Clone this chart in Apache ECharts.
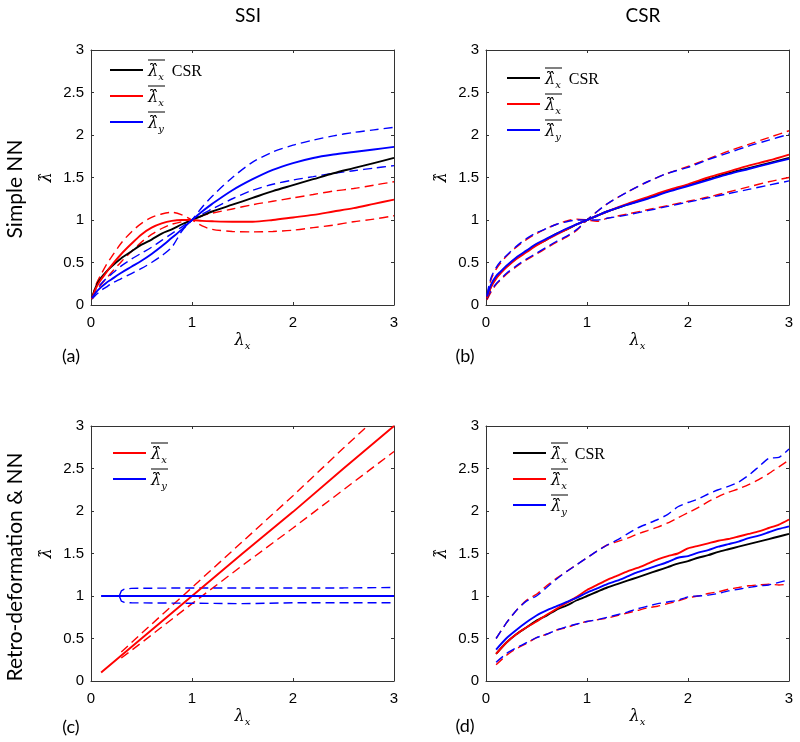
<!DOCTYPE html>
<html><head><meta charset="utf-8">
<script src="https://cdn.jsdelivr.net/npm/echarts@6/dist/echarts.min.js"></script>
<style>html,body{margin:0;padding:0;background:#fff}#c{width:800px;height:742px}</style>
</head><body><div id="c"></div>
<script>
// ---------- Panel (a): SSI, Simple NN ----------
const xA = [0.01,0.05,0.1,0.15,0.2,0.3,0.4,0.5,0.6,0.7,0.8,0.9,1.0,1.1,1.2,1.4,1.6,1.8,2.0,2.2,2.4,2.6,2.8,3.0];
const aCSR = [0.08,0.22,0.32,0.39,0.45,0.55,0.63,0.71,0.77,0.84,0.89,0.95,1.0,1.05,1.1,1.18,1.26,1.34,1.41,1.48,1.55,1.61,1.67,1.73];
const aRed = [0.07,0.2,0.3,0.38,0.46,0.6,0.72,0.83,0.91,0.96,0.99,1.0,1.0,0.99,0.985,0.98,0.98,1.0,1.03,1.06,1.1,1.14,1.19,1.24];
const aRedD1 = [0.08,0.24,0.36,0.47,0.56,0.73,0.86,0.96,1.03,1.07,1.09,1.06,1.0,0.93,0.89,0.865,0.86,0.865,0.88,0.91,0.94,0.98,1.01,1.05];
const aRedD2 = [0.07,0.16,0.24,0.31,0.38,0.51,0.63,0.74,0.83,0.9,0.95,0.98,1.0,1.05,1.08,1.13,1.18,1.22,1.26,1.3,1.34,1.37,1.41,1.45];
const aBlue = [0.08,0.15,0.21,0.26,0.3,0.38,0.45,0.52,0.6,0.69,0.79,0.89,1.0,1.1,1.19,1.35,1.48,1.59,1.67,1.73,1.77,1.8,1.83,1.86];
const aBlueD1 = [0.09,0.18,0.25,0.31,0.36,0.46,0.54,0.61,0.68,0.76,0.84,0.92,1.0,1.07,1.13,1.25,1.35,1.42,1.47,1.51,1.55,1.58,1.61,1.64];
const aBlueD2 = [0.07,0.12,0.17,0.21,0.25,0.31,0.37,0.43,0.5,0.58,0.68,0.87,1.0,1.15,1.28,1.5,1.68,1.8,1.88,1.94,1.99,2.03,2.06,2.09];

// ---------- Panel (b): CSR, Simple NN ----------
const xB = [0.01,0.05,0.1,0.15,0.2,0.3,0.4,0.5,0.6,0.7,0.8,0.9,1.0,1.1,1.2,1.4,1.6,1.8,2.0,2.2,2.4,2.6,2.8,3.0];
const bCSR = [0.08,0.22,0.32,0.39,0.45,0.55,0.63,0.71,0.77,0.84,0.89,0.95,1.0,1.05,1.1,1.18,1.26,1.34,1.41,1.48,1.55,1.61,1.67,1.73];
const bRed = [0.08,0.21,0.31,0.38,0.44,0.54,0.62,0.7,0.77,0.83,0.89,0.95,1.0,1.05,1.1,1.19,1.27,1.35,1.42,1.5,1.57,1.64,1.7,1.77];
const bBlue = [0.1,0.24,0.34,0.4,0.46,0.56,0.64,0.72,0.78,0.84,0.9,0.95,1.0,1.05,1.1,1.18,1.25,1.33,1.4,1.47,1.54,1.6,1.66,1.72];
const bRedD1 = [0.1,0.3,0.42,0.5,0.57,0.68,0.77,0.84,0.9,0.95,0.99,1.01,1.0,0.985,1.02,1.07,1.12,1.17,1.22,1.27,1.33,1.39,1.45,1.5];
const bRedD2 = [0.06,0.15,0.24,0.3,0.36,0.45,0.53,0.6,0.67,0.74,0.8,0.88,1.0,1.1,1.19,1.33,1.45,1.55,1.63,1.72,1.81,1.89,1.97,2.05];
const bBlueD1 = [0.12,0.32,0.44,0.52,0.58,0.69,0.78,0.85,0.9,0.95,0.98,1.0,1.0,1.0,1.02,1.06,1.11,1.16,1.21,1.26,1.31,1.36,1.41,1.46];
const bBlueD2 = [0.07,0.17,0.25,0.31,0.37,0.46,0.54,0.61,0.68,0.75,0.81,0.89,1.0,1.1,1.19,1.33,1.45,1.55,1.62,1.71,1.79,1.87,1.94,2.01];

// ---------- Panel (c): SSI, Retro-deformation & NN ----------
const xC = [0.1,0.3,0.5,1.0,1.5,2.0,2.5,3.0];
const cRed = [0.1,0.3,0.5,1.0,1.5,1.99,2.5,3.0];
const xCd = [0.3,0.5,1.0,1.5,2.0,2.5,3.0];
const cRedUp = [0.34,0.56,1.1,1.64,2.18,2.74,3.29];
const cRedLo = [0.27,0.45,0.91,1.36,1.8,2.25,2.7];
const cBlue = [1.0,1.0,1.0,1.0,1.0,1.0,1.0,1.0];
const xCb = [0.28,0.3,0.33,0.4,1.0,1.5,2.0,2.5,3.0];
const cBlueUp = [1.0,1.06,1.08,1.09,1.095,1.095,1.095,1.095,1.1];
const cBlueLo = [1.0,0.94,0.925,0.92,0.915,0.91,0.92,0.92,0.92];

// ---------- Panel (d): CSR, Retro-deformation & NN ----------
const xD = [0.1,0.2,0.3,0.4,0.5,0.6,0.7,0.8,0.9,1.0,1.1,1.2,1.3,1.4,1.5,1.6,1.7,1.8,1.9,2.0,2.1,2.2,2.3,2.4,2.5,2.6,2.7,2.8,2.9,3.0];
const dCSR = [0.32,0.45,0.55,0.63,0.71,0.77,0.84,0.89,0.95,1.0,1.05,1.1,1.14,1.18,1.22,1.26,1.3,1.34,1.38,1.41,1.45,1.48,1.52,1.55,1.58,1.61,1.64,1.67,1.7,1.73];
const dRed = [0.32,0.45,0.55,0.63,0.7,0.78,0.85,0.92,0.99,1.07,1.13,1.19,1.24,1.29,1.33,1.38,1.43,1.47,1.5,1.56,1.59,1.62,1.65,1.67,1.7,1.73,1.76,1.8,1.84,1.9];
const dBlue = [0.37,0.5,0.6,0.69,0.77,0.83,0.88,0.93,0.98,1.04,1.09,1.14,1.18,1.23,1.28,1.32,1.36,1.4,1.45,1.47,1.51,1.54,1.58,1.61,1.64,1.68,1.71,1.75,1.79,1.82];
const dRedUp = [0.5,0.68,0.83,0.95,1.02,1.12,1.21,1.29,1.37,1.45,1.53,1.6,1.64,1.68,1.73,1.77,1.81,1.86,1.92,1.98,2.04,2.11,2.17,2.22,2.26,2.31,2.37,2.44,2.52,2.6];
const dBlueUp = [0.5,0.68,0.83,0.94,1.0,1.1,1.2,1.29,1.37,1.45,1.53,1.6,1.66,1.73,1.8,1.85,1.9,1.96,2.05,2.1,2.14,2.2,2.25,2.29,2.34,2.42,2.52,2.62,2.63,2.73];
const dRedLo = [0.19,0.3,0.38,0.44,0.51,0.55,0.6,0.63,0.67,0.7,0.72,0.74,0.77,0.8,0.83,0.86,0.88,0.91,0.94,0.98,1.0,1.03,1.05,1.08,1.1,1.12,1.13,1.14,1.13,1.14];
const dBlueLo = [0.22,0.32,0.39,0.45,0.51,0.55,0.6,0.64,0.67,0.7,0.72,0.75,0.78,0.81,0.85,0.88,0.91,0.93,0.95,0.99,1.0,1.01,1.03,1.06,1.08,1.1,1.12,1.13,1.16,1.19];

// ---------- Tick labels / text ----------
const xTicks = [0,1,2,3];
const yTicks = [0,0.5,1,1.5,2,2.5,3];
const colTitles = ['SSI','CSR'];
const rowTitles = ['Simple NN','Retro-deformation & NN'];
const panelTags = ['(a)','(b)','(c)','(d)'];

const RED = '#ff0000', BLUE = '#0000ff', BLACK = '#000000';
const AX = '#333333';
const pts = (xs, ys) => xs.map((x, i) => [x, ys[i]]);

const gridPos = [[91,50],[486,50],[91,426],[486,426]];
const W = 303, H = 255;

const mathRich = {
  l: {fontFamily: 'DejaVu Serif', fontStyle: 'italic', fontSize: 16, color: '#000', lineHeight: 20},
  s: {fontFamily: 'DejaVu Serif', fontStyle: 'italic', fontSize: 10, color: '#000', verticalAlign: 'bottom', lineHeight: 16},
  t: {fontFamily: 'Liberation Serif', fontSize: 16, color: '#000', lineHeight: 20},
  ov: {width: 17, height: 1, lineHeight: 4, fontSize: 4, backgroundColor: '#000'}
};

const xAxes = [], yAxes = [];
gridPos.forEach((g, i) => {
  xAxes.push({
    gridIndex: i, type: 'value', min: 0, max: 3, interval: 1, position: 'bottom',
    axisLine: {show: true, onZero: false, lineStyle: {color: AX, width: 1}},
    axisTick: {show: true, inside: true, length: 3, lineStyle: {color: AX}},
    axisLabel: {color: '#000', fontSize: 15, fontFamily: 'Liberation Sans', margin: 10,
      formatter: v => xTicks.includes(v) ? String(v) : ''},
    splitLine: {show: false},
    name: '{l|λ}{s|x}', nameLocation: 'middle', nameGap: 26,
    nameTextStyle: {rich: mathRich}
  });
  xAxes.push({
    gridIndex: i, type: 'value', min: 0, max: 3, interval: 1, position: 'top',
    axisLine: {show: true, onZero: false, lineStyle: {color: AX, width: 1}},
    axisTick: {show: true, inside: true, length: 3, lineStyle: {color: AX}},
    axisLabel: {show: false}, splitLine: {show: false}
  });
  yAxes.push({
    gridIndex: i, type: 'value', min: 0, max: 3, interval: 0.5, position: 'left',
    axisLine: {show: true, onZero: false, lineStyle: {color: AX, width: 1}},
    axisTick: {show: true, inside: true, length: 3, lineStyle: {color: AX}},
    axisLabel: {color: '#000', fontSize: 15, fontFamily: 'Liberation Sans', margin: 7,
      formatter: v => yTicks.includes(v) ? String(v) : ''},
    splitLine: {show: false},
    name: '{l|λ̂}', nameLocation: 'middle', nameGap: 34, nameRotate: 90,
    nameTextStyle: {rich: mathRich}
  });
  yAxes.push({
    gridIndex: i, type: 'value', min: 0, max: 3, interval: 0.5, position: 'right',
    axisLine: {show: true, onZero: false, lineStyle: {color: AX, width: 1}},
    axisTick: {show: true, inside: true, length: 3, lineStyle: {color: AX}},
    axisLabel: {show: false}, splitLine: {show: false}
  });
});

function line(name, g, data, color, dashed, smooth) {
  return {
    name, type: 'line', xAxisIndex: 2*g, yAxisIndex: 2*g, data,
    symbol: 'none', showSymbol: false, smooth: smooth === undefined ? 0.3 : smooth,
    clip: true, silent: true, animation: false,
    lineStyle: {color, width: dashed ? 1.4 : 1.9, type: dashed ? [9, 5] : 'solid'},
    itemStyle: {color},
    z: dashed ? 2 : 3
  };
}

const series = [
  // a
  line('csr', 0, pts(xA, aCSR), BLACK, false),
  line('lx_a1', 0, pts(xA, aRedD1), RED, true),
  line('lx_a2', 0, pts(xA, aRedD2), RED, true),
  line('ly_a1', 0, pts(xA, aBlueD1), BLUE, true),
  line('ly_a2', 0, pts(xA, aBlueD2), BLUE, true),
  line('lx', 0, pts(xA, aRed), RED, false),
  line('ly', 0, pts(xA, aBlue), BLUE, false),
  // b
  line('csr', 1, pts(xB, bCSR), BLACK, false),
  line('lx_b1', 1, pts(xB, bRedD1), RED, true),
  line('lx_b2', 1, pts(xB, bRedD2), RED, true),
  line('ly_b1', 1, pts(xB, bBlueD1), BLUE, true),
  line('ly_b2', 1, pts(xB, bBlueD2), BLUE, true),
  line('lx', 1, pts(xB, bRed), RED, false),
  line('ly', 1, pts(xB, bBlue), BLUE, false),
  // c
  line('lx_c1', 2, pts(xCd, cRedUp), RED, true, false),
  line('lx_c2', 2, pts(xCd, cRedLo), RED, true, false),
  line('ly_c1', 2, pts(xCb, cBlueUp), BLUE, true, false),
  line('ly_c2', 2, pts(xCb, cBlueLo), BLUE, true, false),
  line('lx', 2, pts(xC, cRed), RED, false, false),
  line('ly', 2, pts(xC, cBlue), BLUE, false, false),
  // d
  line('csr', 3, pts(xD, dCSR), BLACK, false, 0.2),
  line('lx_d1', 3, pts(xD, dRedUp), RED, true, 0.2),
  line('lx_d2', 3, pts(xD, dRedLo), RED, true, 0.2),
  line('ly_d1', 3, pts(xD, dBlueUp), BLUE, true, 0.2),
  line('ly_d2', 3, pts(xD, dBlueLo), BLUE, true, 0.2),
  line('lx', 3, pts(xD, dRed), RED, false, 0.2),
  line('ly', 3, pts(xD, dBlue), BLUE, false, 0.2)
];

const legendLabels = {
  csr: '{ov| }\n{l|λ̂}{s|x}{t|  CSR}',
  lx: '{ov| }\n{l|λ̂}{s|x}',
  ly: '{ov| }\n{l|λ̂}{s|y}'
};
function legend(left, top, names) {
  return {
    left, top, orient: 'vertical', padding: 0, itemGap: 2, itemWidth: 33, itemHeight: 2,
    icon: 'rect', selectedMode: false, data: names,
    formatter: n => legendLabels[n],
    textStyle: {rich: mathRich}
  };
}

const txt = (x, y, text, size, rot) => ({
  type: 'text', x, y, rotation: rot || 0,
  style: {text, fontFamily: 'Lato', fontSize: size, fill: '#000', align: 'center', verticalAlign: 'middle'}
});

const option = {
  backgroundColor: '#fff',
  animation: false,
  grid: gridPos.map(g => ({left: g[0], top: g[1], width: W, height: H, show: false})),
  xAxis: xAxes,
  yAxis: yAxes,
  legend: [
    legend(110, 58, ['csr','lx','ly']),
    legend(507, 66, ['csr','lx','ly']),
    legend(113, 441, ['lx','ly']),
    legend(513, 441, ['csr','lx','ly'])
  ],
  series,
  graphic: [
    txt(248, 16, colTitles[0], 19),
    txt(643, 16, colTitles[1], 19),
    txt(15, 189, rowTitles[0], 21, Math.PI/2),
    txt(15, 567, rowTitles[1], 21, Math.PI/2),
    txt(71, 356, panelTags[0], 18),
    txt(465, 356, panelTags[1], 18),
    txt(71, 727, panelTags[2], 18),
    txt(465, 726, panelTags[3], 18)
  ]
};

echarts.init(document.getElementById('c'), null, {renderer: 'canvas'}).setOption(option);
</script></body></html>
